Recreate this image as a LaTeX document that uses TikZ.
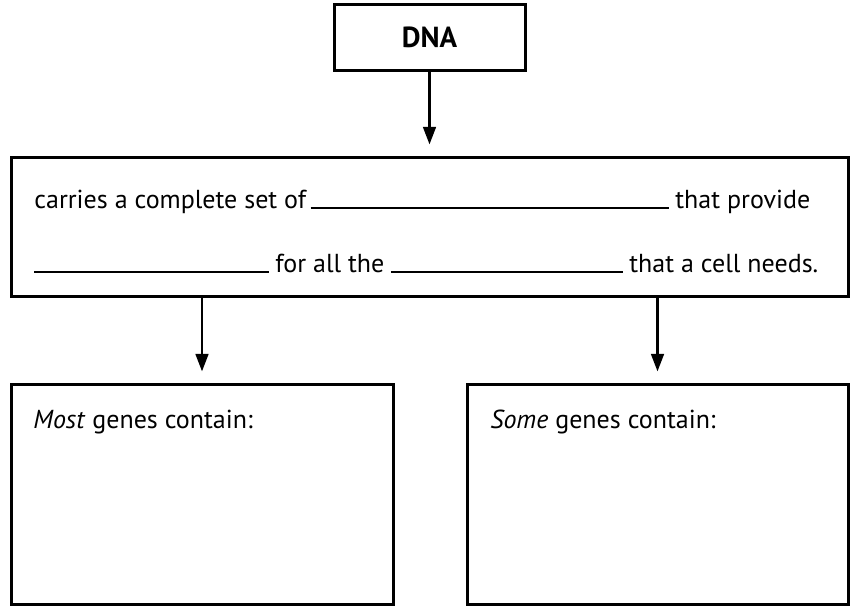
\documentclass[tikz,border=0pt]{standalone}
\usepackage{fontspec}
\setmainfont{PT Sans}
\usepackage{tikz}
\usetikzlibrary{arrows.meta, positioning, calc}

\tikzset{
	box/.style={draw, line width=1.5pt, rectangle, inner sep=0pt},
	txt/.style={anchor=base west, inner sep=0pt, font=\fontsize{13}{15}\selectfont},
	blank/.style={line width=1pt},
	flow/.style={line width=1.4pt, -{Triangle[width=6.3pt,length=8.8pt]}, shorten >=5.5pt}
}

\begin{document}
\begin{tikzpicture}[x=0.5pt,y=-0.5pt]
	\useasboundingbox (0,0) rectangle (856,606);
	% boxes
	\node[box, minimum width=95.5pt, minimum height=33pt, font=\fontsize{14.5}{16}\selectfont\bfseries] (dna) at (429.5,37) {DNA};
	\node[box, minimum width=418.5pt, minimum height=69.5pt] (carries) at (429.5,226.5) {};
	\node[box, minimum width=191pt, minimum height=110pt] (most) at (202,494) {};
	\node[box, minimum width=190.5pt, minimum height=110pt] (some) at (657.5,494) {};
	% text with blanks
	\node[txt] (set) at (34,208) {carries a complete set of};
	\node[txt] (provide) at (675,208) {that provide};
	\coordinate (start) at (34,272);
	\node[txt] (forall) at (275,272) {for all the};
	\node[txt] (needs) at (629,272) {that a cell needs.};
	\draw[blank] ([xshift=2pt]set.base east) -- ([xshift=-3pt]provide.base west);
	\draw[blank] (start) -- ([xshift=-3pt]forall.base west);
	\draw[blank] ([xshift=3pt]forall.base east) -- ([xshift=-3pt]needs.base west);
	\node[txt] (mostlbl) at (33,428) {\textit{Most} genes contain:};
	\node[txt] (somelbl) at (490,428) {\textit{Some} genes contain:};
	% arrows
	\draw[flow] (dna) -- (carries);
	\draw[flow] (carries.south -| most.north) -- (most);
	\draw[flow] (carries.south -| some.north) -- (some);
\end{tikzpicture}
\end{document}
